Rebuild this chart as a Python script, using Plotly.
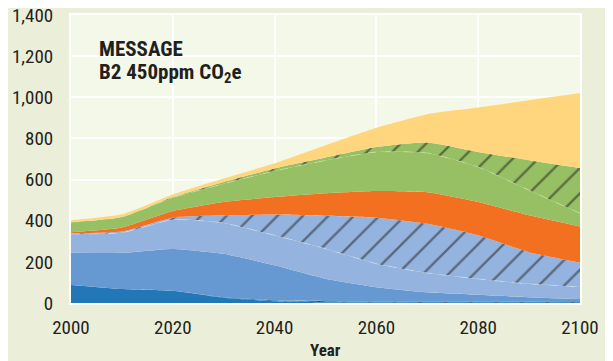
import plotly.graph_objects as go

years = [2000, 2010, 2020, 2030, 2040, 2050, 2060, 2070, 2080, 2090, 2100]

# cumulative tops of each stacked layer
dark_blue_top = [88, 68, 59, 25, 8, 3, 2, 1, 1, 1, 1]
dark_blue_hatch_top = [88, 68, 59, 28, 13, 9, 7, 6, 6, 6, 5]
mid_blue_top = [244, 244, 263, 239, 183, 118, 77, 52, 40, 28, 19]
light_blue_top = [335, 342, 405, 389, 329, 264, 191, 146, 117, 93, 78]
light_blue_hatch_top = [339, 348, 415, 426, 430, 424, 415, 385, 329, 247, 196]
orange_top = [344, 367, 447, 491, 515, 533, 544, 538, 491, 426, 372]
green_top = [393, 418, 512, 580, 642, 693, 734, 729, 661, 548, 436]
green_hatch_top = [393, 418, 515, 588, 654, 707, 758, 780, 734, 694, 656]
yellow_top = [402, 431, 528, 605, 679, 767, 852, 918, 950, 986, 1021]

x_ticks = [2000, 2020, 2040, 2060, 2080, 2100]
y_ticks = [0, 200, 400, 600, 800, 1000, 1200, 1400]
y_tick_labels = ["0", "200", "400", "600", "800", "1,000", "1,200", "1,400"]

C_DARK = "#2277B6"
C_MID = "#6699D1"
C_LIGHT = "#94B4DF"
C_ORANGE = "#F37021"
C_GREEN = "#97BF63"
C_YELLOW = "#FFD67E"
HATCH = "#1E1C1C"

layers = [
    (dark_blue_top, C_DARK, False, False),
    (dark_blue_hatch_top, C_DARK, True, False),
    (mid_blue_top, C_MID, False, False),
    (light_blue_top, C_LIGHT, False, True),
    (light_blue_hatch_top, C_LIGHT, True, False),
    (orange_top, C_ORANGE, False, False),
    (green_top, C_GREEN, False, True),
    (green_hatch_top, C_GREEN, True, False),
    (yellow_top, C_YELLOW, False, False),
]

fig = go.Figure()
for i, (vals, col, hatched, sep) in enumerate(layers):
    kw = dict(
        x=years, y=vals, mode="lines",
        fill="tozeroy" if i == 0 else "tonexty",
        fillcolor=col,
        hoverinfo="skip", showlegend=False,
    )
    if sep:
        kw["line"] = dict(color="rgba(255,255,255,0.3)", width=1, dash="dash", shape="spline", smoothing=0.5)
    else:
        kw["line"] = dict(color=col, width=0, shape="spline", smoothing=0.5)
    if hatched:
        kw["fillpattern"] = dict(shape="/", fgcolor=HATCH, bgcolor=col, size=18, solidity=0.13)
    fig.add_trace(go.Scatter(**kw))

FONT = "Roboto Condensed, Arial Narrow, sans-serif"

# the page body adds an 8px offset, so the figure is 8px smaller and margins shifted
fig.update_layout(
    width=605, height=353,
    margin=dict(l=63, r=33, t=7, b=58, autoexpand=False),
    paper_bgcolor="#EBEED9",
    plot_bgcolor="#F4F8E9",
    font=dict(family=FONT, size=19, color="#231F20"),
    xaxis=dict(
        range=[2000, 2100], tickvals=x_ticks, showgrid=True, gridcolor="white", gridwidth=1.5,
        zeroline=False, showline=True, linecolor="white", linewidth=2, mirror=True,
        ticks="", ticklabelstandoff=6, automargin=False, ticklabeloverflow="allow",
    ),
    yaxis=dict(
        range=[0, 1400], tickvals=y_ticks, ticktext=y_tick_labels, showgrid=True,
        gridcolor="white", gridwidth=1.5, zeroline=False, showline=True, linecolor="white",
        linewidth=2, mirror=True, ticks="", ticklabelstandoff=12, automargin=False,
        ticklabeloverflow="allow",
    ),
    annotations=[
        dict(text="<b>MESSAGE</b>", xref="paper", yref="y", x=0.051, y=1236,
             xanchor="left", yanchor="middle", showarrow=False, font=dict(size=21, family=FONT, color="#231F20")),
        dict(text="<b>B2 450ppm CO<sub>2</sub>e</b>", xref="paper", yref="y", x=0.051, y=1114,
             xanchor="left", yanchor="middle", showarrow=False, font=dict(size=21, family=FONT, color="#231F20")),
        dict(text="<b>Year</b>", xref="paper", yref="paper", x=0.5, y=0, yshift=-35,
             xanchor="center", yanchor="top", showarrow=False, font=dict(size=17, family=FONT, color="#231F20")),
    ],
)

fig.write_html("out.html")
